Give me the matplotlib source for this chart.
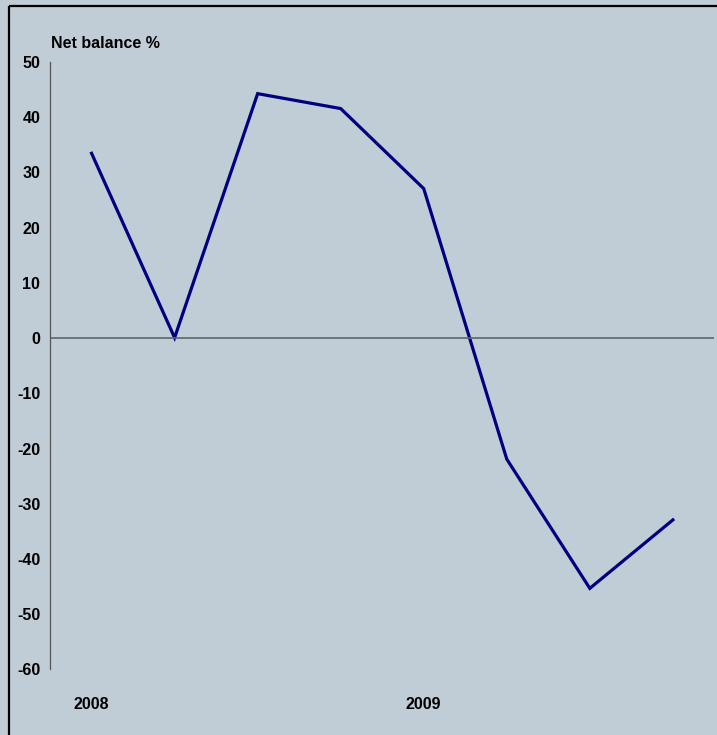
import matplotlib.pyplot as plt
from matplotlib.lines import Line2D

# quarterly net balance, Q1 2008 .. Q4 2009
quarters = ['Q1 2008', 'Q2 2008', 'Q3 2008', 'Q4 2008',
            'Q1 2009', 'Q2 2009', 'Q3 2009', 'Q4 2009']
net_balance = [33.4, 0.0, 44.2, 41.5, 27.0, -22.0, -45.4, -33.0]
year_ticks = [0, 4]
year_labels = ['2008', '2009']
y_ticks = list(range(-60, 51, 10))

plt.rcParams['font.family'] = ['Liberation Sans', 'DejaVu Sans']

bg = '#c0ccd6'
W, H = 717, 735
# a little extra so the pixel size doesn't round down
fig = plt.figure(figsize=((W + 0.4) / 100, (H + 0.4) / 100), dpi=100, facecolor=bg)

# black frame along the top and left edges
fx, fy = 8.5 / W, 1 - 6.5 / H
fig.add_artist(Line2D([fx, 1.0], [fy, fy], transform=fig.transFigure,
                      color='black', linewidth=1.6, solid_capstyle='butt'))
fig.add_artist(Line2D([fx, fx], [fy, 0.0], transform=fig.transFigure,
                      color='black', linewidth=1.6, solid_capstyle='butt'))

ax = fig.add_axes([50 / W, 1 - 669 / H, (714 - 50) / W, (669 - 62) / H])
ax.set_facecolor(bg)

x = list(range(len(net_balance)))
ax.plot(x, net_balance, color='#000080', linewidth=2.3, solid_joinstyle='miter')
ax.axhline(0, color='#5f6569', linewidth=1.2)

ax.set_xlim(-0.5, 7.5)
ax.set_ylim(-60, 50)
ax.set_yticks(y_ticks)
ax.set_yticklabels([str(v) for v in y_ticks], fontsize=11.5, fontweight='bold')
ax.set_xticks(year_ticks)
ax.set_xticklabels(year_labels, fontsize=11.5, fontweight='bold')
ax.tick_params(axis='y', length=0, pad=7)
ax.tick_params(axis='x', length=0, pad=20)

for s in ['top', 'right', 'bottom']:
    ax.spines[s].set_visible(False)
ax.spines['left'].set_color('#555555')
ax.spines['left'].set_linewidth(0.9)

fig.text(51 / W, 1 - 43 / H, 'Net balance %', fontsize=11.5, fontweight='bold',
         ha='left', va='center')

fig.savefig('out.png', dpi=100, facecolor=bg)
